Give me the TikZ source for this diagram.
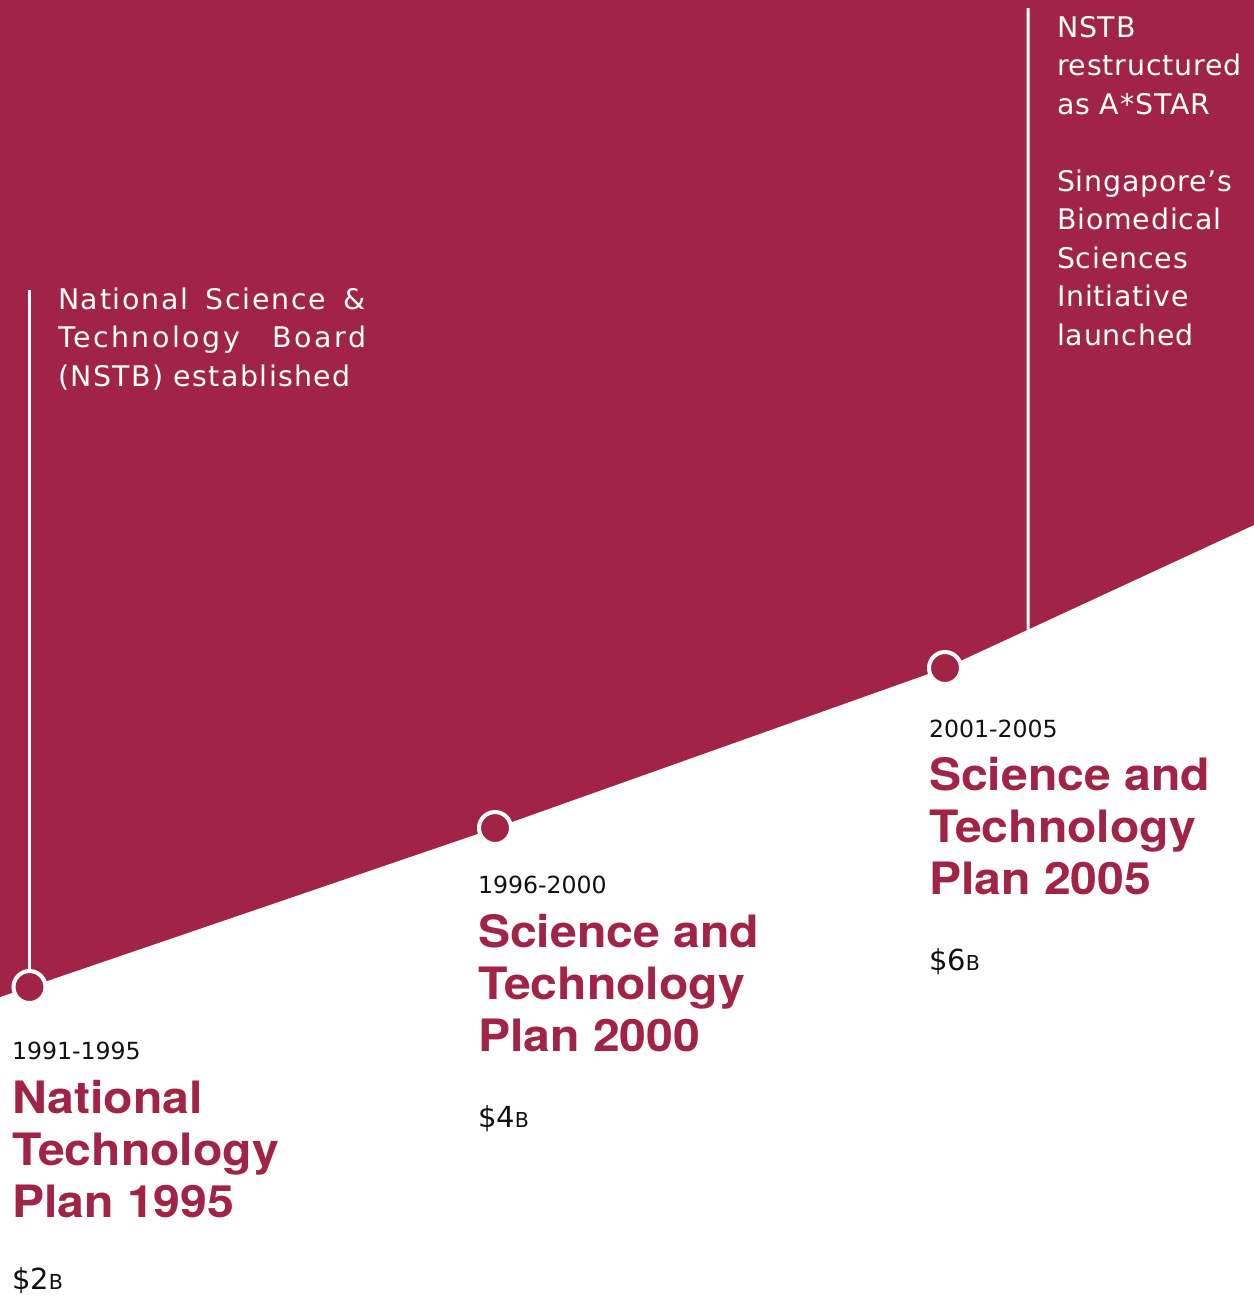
\documentclass[tikz,border=0pt]{standalone}
\usepackage{fontspec}
\usetikzlibrary{calc}
\setmainfont{DejaVu Sans}
\newfontfamily\headfont{TeX Gyre Heros}[FakeStretch=1.08]
\definecolor{crimson}{HTML}{A12446}
\definecolor{ink}{HTML}{111111}

\tikzset{
  milestone/.style={circle, fill=crimson, draw=white, line width=2pt,
    minimum size=16pt, inner sep=0pt},
  tickline/.style={draw=white, line width=1.5pt},
  txt/.style={anchor=base west, inner sep=0pt, outer sep=0pt},
}

\newcommand{\plantitle}[1]{\parbox[t]{200pt}{\headfont\bfseries\fontsize{22.3}{26}\selectfont #1}}
\newcommand{\budget}[1]{\fontsize{14.5}{16}\selectfont\$#1\fontsize{10.3}{12}\selectfont B}
\newcommand{\period}[1]{\fontsize{11.8}{14}\selectfont #1}
\newcommand{\spaced}[2]{\makebox[154pt][s]{\addfontfeature{LetterSpace=#1}#2}}

\begin{document}
\begin{tikzpicture}[x=0.5pt, y=-0.5pt]
  \useasboundingbox (0,0) rectangle (1254,1297);

  % timeline corners
  \coordinate (k0) at (0,997);
  \coordinate (k1) at (29.5,987);
  \coordinate (k2) at (495,828);
  \coordinate (k3) at (945,668);
  \coordinate (k4) at (1254,525);

  % crimson area above the rising timeline
  \fill[crimson] (0,0) -- (1254,0) -- (k4) -- (k3) -- (k2) -- (k1) -- (k0) -- cycle;

  % milestone markers
  \node[milestone] (m1) at (k1) {};
  \node[milestone] (m2) at (k2) {};
  \node[milestone] (m3) at (k3) {};

  % vertical leader lines
  \coordinate (top1) at (29.5,290);
  \coordinate (top2) at (1028,8);
  \coordinate (foot2) at ($(k3)!0.2686!(k4)$);
  \draw[tickline] (top1) -- (m1.north);
  \draw[tickline] (top2) -- (foot2);

  % notes on the crimson area
  \node[txt, text=white] (note1) at (58,309)
    {\parbox[t]{170pt}{\fontsize{14.2}{19.25}\selectfont
      \spaced{6}{National Science \&}\\
      \spaced{9}{Technology Board}\\
      {\addfontfeature{LetterSpace=5}(NSTB) established}}};
  \node[txt, text=white] (note2) at (1057,37)
    {\parbox[t]{110pt}{\fontsize{14.2}{19.25}\selectfont\addfontfeature{LetterSpace=3}%
      NSTB\\restructured\\as A*STAR\\[19.25pt]
      Singapore’s\\Biomedical\\Sciences\\Initiative\\launched}};

  % plan 1
  \node[txt, text=ink] (y1) at (12,1059) {\period{1991-1995}};
  \node[txt, text=crimson] (t1) at (12,1113) {\plantitle{National\\Technology\\Plan 1995}};
  \node[txt, text=ink] (b1) at (12,1289) {\budget{2}};

  % plan 2
  \node[txt, text=ink] (y2) at (478,893) {\period{1996-2000}};
  \node[txt, text=crimson] (t2) at (478,947) {\plantitle{Science and\\Technology\\Plan 2000}};
  \node[txt, text=ink] (b2) at (478,1127) {\budget{4}};

  % plan 3
  \node[txt, text=ink] (y3) at (929,737) {\period{2001-2005}};
  \node[txt, text=crimson] (t3) at (929,790) {\plantitle{Science and\\Technology\\Plan 2005}};
  \node[txt, text=ink] (b3) at (929,970) {\budget{6}};
\end{tikzpicture}
\end{document}
